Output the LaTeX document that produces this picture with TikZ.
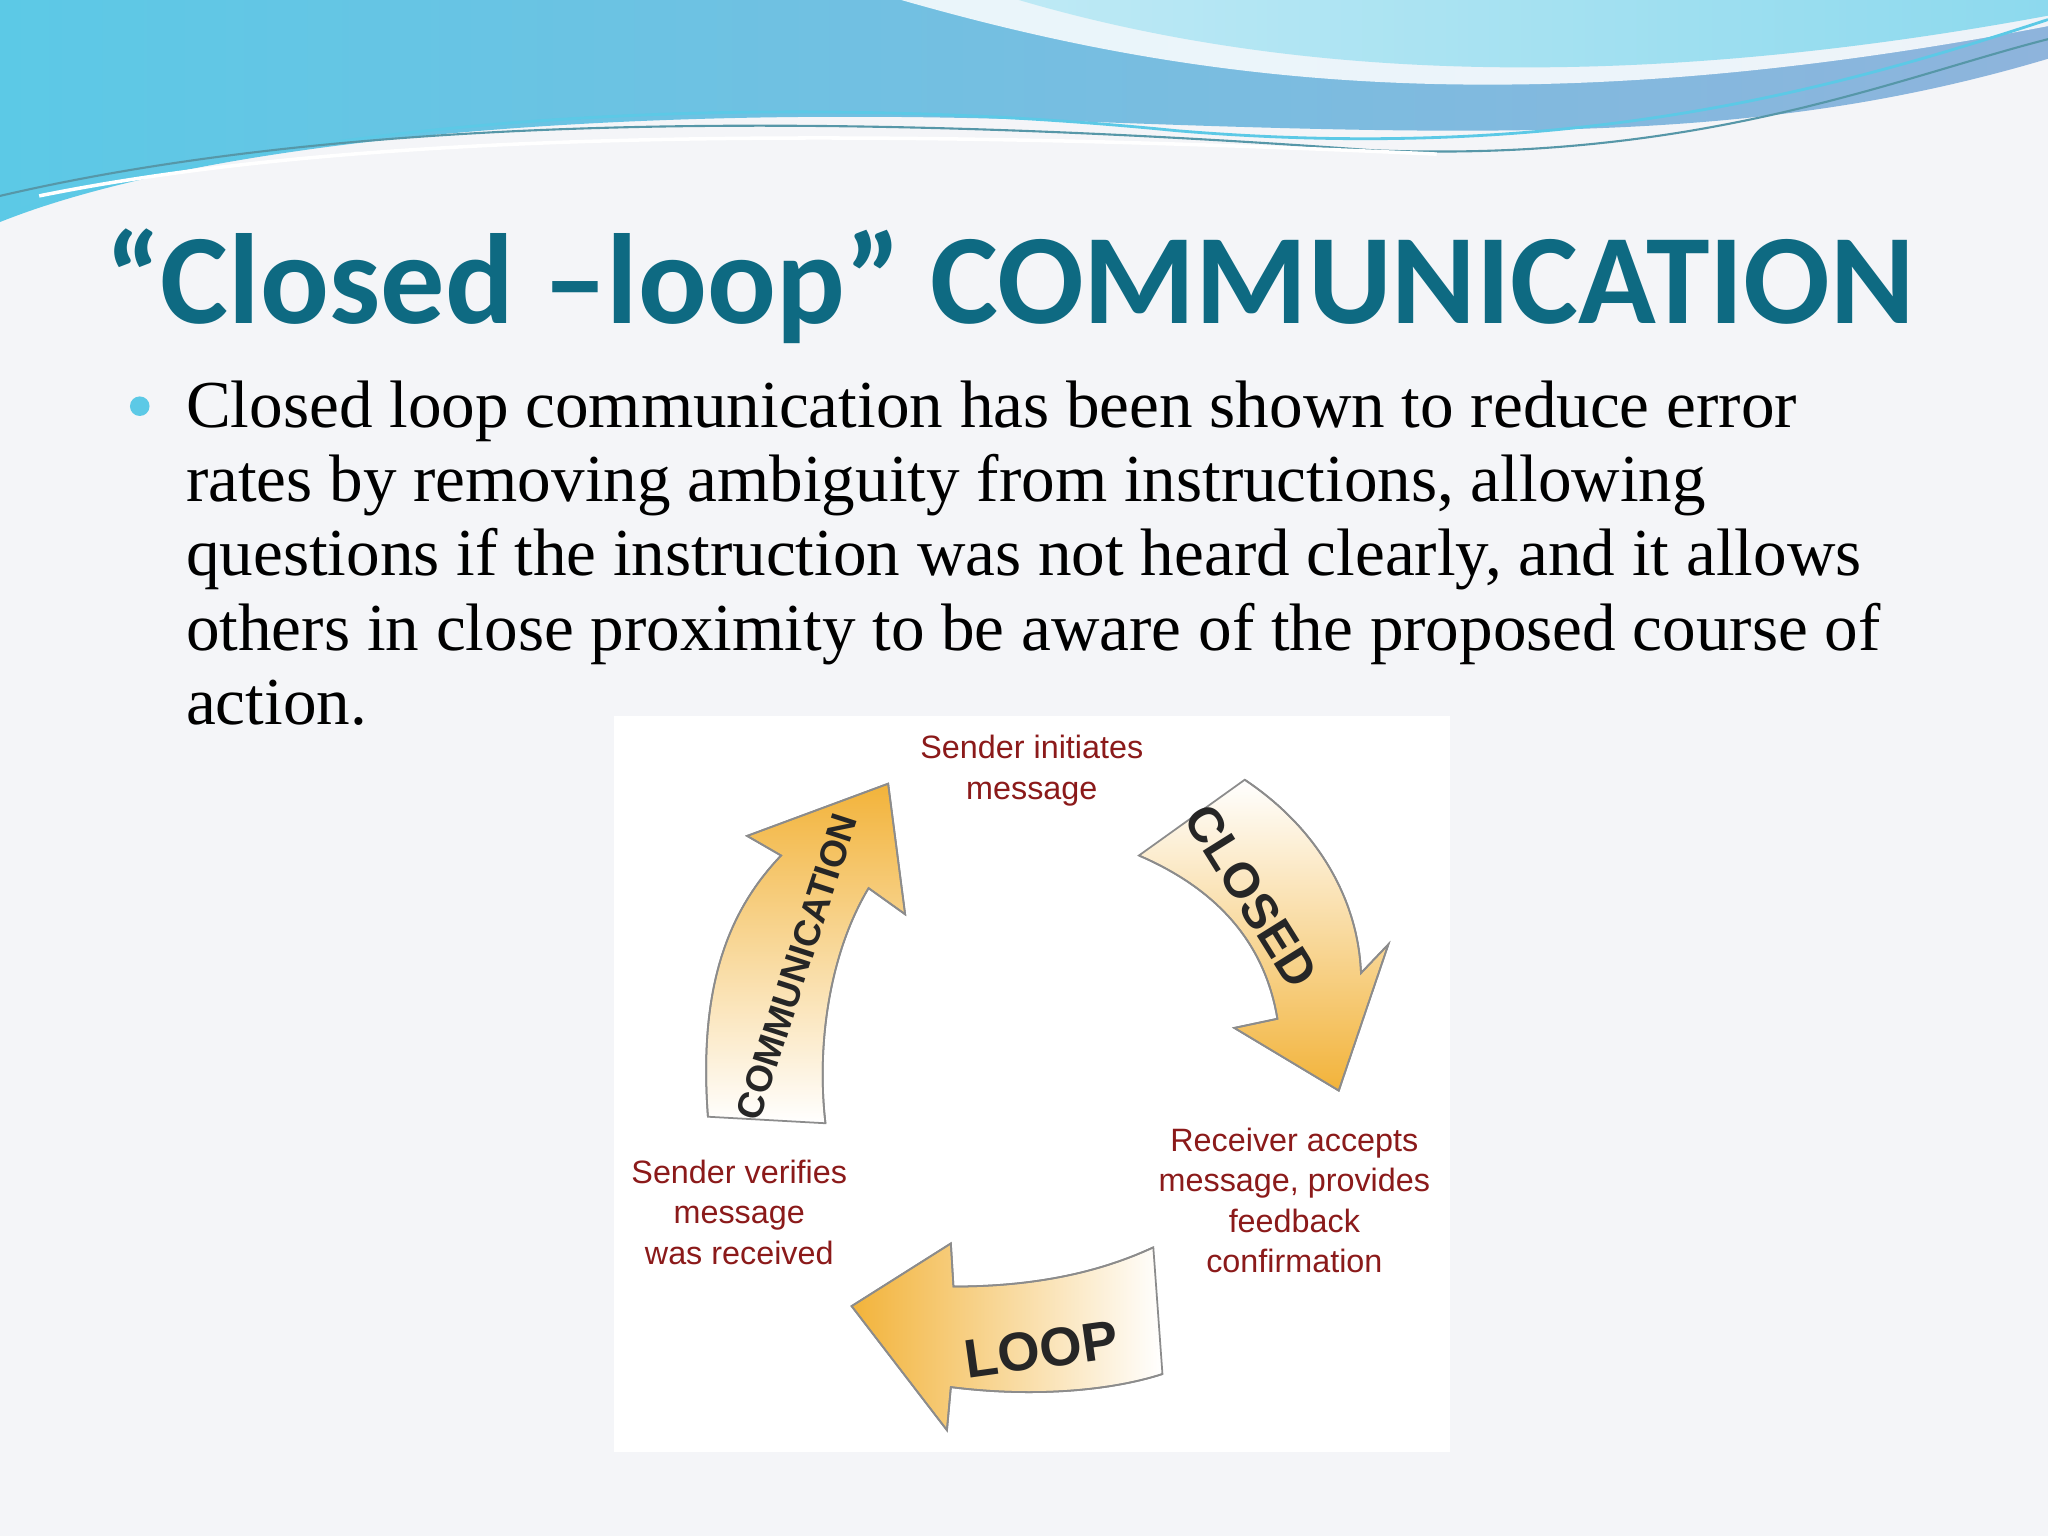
\documentclass[tikz,border=0pt]{standalone}
\usepackage{fontspec}
\setmainfont{Liberation Serif}
\newfontfamily\titlefont{Carlito}
\newfontfamily\labfont{Liberation Sans}
\usetikzlibrary{shadings}
\definecolor{titleblue}{HTML}{0E6A82}
\definecolor{labred}{HTML}{8B1A1A}
\definecolor{bg}{HTML}{F4F5F8}
\definecolor{arrorange}{HTML}{F2B33A}
\definecolor{wave1}{HTML}{5CC9E6}
\definecolor{wave2}{HTML}{8EB4DC}
\tikzset{
  bodyline/.style={anchor=base west,inner sep=0pt,font=\fontsize{19.1}{22}\selectfont},
  lab/.style={align=center,text=labred,font=\labfont\fontsize{9.2}{11.5}\selectfont},
  arrlab/.style={font=\labfont\bfseries\fontsize{14}{14}\selectfont,text=black!85},
  bigarrow/.style={draw=black!45,line width=0.5pt},
}
\begin{document}
\begin{tikzpicture}[x=0.013061cm,y=-0.013061cm]
\useasboundingbox (0,0) rectangle (1568,1176);
\fill[bg] (0,0) rectangle (1568,1176);
% top waves
\shade[left color=wave1,right color=wave2] (0,0) -- (1568,0) -- (1568,45)
  .. controls (1350,110) and (1150,105) .. (800,92)
  .. controls (450,80) and (150,110) .. (0,170) -- cycle;
\fill[white,opacity=0.85] (690,0) .. controls (900,60) and (1150,100) .. (1568,20) -- (1568,0) -- cycle;
\shade[left color=wave1!40,right color=wave1!70] (780,0) .. controls (950,50) and (1200,80) .. (1568,12) -- (1568,0) -- cycle;
\draw[wave1,line width=0.8pt] (0,165) .. controls (250,85) and (600,70) .. (900,100) .. controls (1200,125) and (1400,70) .. (1568,15);
\draw[titleblue!70,line width=0.6pt] (0,150) .. controls (300,80) and (700,90) .. (1050,115) .. controls (1300,125) and (1450,60) .. (1568,30);
\draw[white,line width=1pt] (30,150) .. controls (300,95) and (700,100) .. (1100,118);

% title
\node[anchor=base west,inner sep=0pt,text=titleblue,font=\titlefont\bfseries\fontsize{36.5}{40}\selectfont] (title) at (80,248) {“Closed –loop” COMMUNICATION};
% bullet text
\fill[wave1] (107,311) circle (7.5);
\node[bodyline] (l1) at (142,327) {Closed loop communication has been shown to reduce error};
\node[bodyline] (l2) at (142,384) {rates by removing ambiguity from instructions, allowing};
\node[bodyline] (l3) at (142,441) {questions if the instruction was not heard clearly, and it allows};
\node[bodyline] (l4) at (142,498) {others in close proximity to be aware of the proposed course of};
\node[bodyline] (l5) at (142,555) {action.};

% diagram panel
\fill[white] (470,548) rectangle (1110,1112);
% CLOSED arrow
\shade[bigarrow,shading angle=-30,top color=white,bottom color=arrorange]
 (953,597) .. controls (1010,635) and (1040,690) .. (1042,745) -- (1063,723) -- (1025,835) -- (945,787) -- (978,780)
 .. controls (968,720) and (930,680) .. (872,655) -- cycle;
\draw[bigarrow] (953,597) .. controls (1010,635) and (1040,690) .. (1042,745) -- (1063,723) -- (1025,835) -- (945,787) -- (978,780)
 .. controls (968,720) and (930,680) .. (872,655);
\node[arrlab,rotate=-58] (closed) at (958,686) {CLOSED};
% COMMUNICATION arrow
\shade[bigarrow,shading angle=0,top color=arrorange,bottom color=white]
 (542,855) .. controls (535,760) and (555,700) .. (598,655) -- (572,640) -- (680,600) -- (693,700) -- (665,680)
 .. controls (635,730) and (625,800) .. (632,860) -- cycle;
\draw[bigarrow] (542,855) .. controls (535,760) and (555,700) .. (598,655) -- (572,640) -- (680,600) -- (693,700) -- (665,680)
 .. controls (635,730) and (625,800) .. (632,860);
\node[arrlab,rotate=72,font=\labfont\bfseries\fontsize{10.5}{10.5}\selectfont] (comm) at (610,740) {COMMUNICATION};
% LOOP arrow
\shade[bigarrow,shading angle=90,left color=arrorange,right color=white]
 (883,955) .. controls (840,975) and (790,985) .. (730,985) -- (728,952) -- (652,1000) -- (725,1095) -- (728,1062)
 .. controls (790,1070) and (850,1065) .. (890,1052) -- cycle;
\draw[bigarrow] (883,955) .. controls (840,975) and (790,985) .. (730,985) -- (728,952) -- (652,1000) -- (725,1095) -- (728,1062)
 .. controls (790,1070) and (850,1065) .. (890,1052);
\node[arrlab,rotate=8,font=\labfont\bfseries\fontsize{15.5}{15.5}\selectfont] (loop) at (797,1033) {LOOP};

% labels
\node[lab] (s1) at (790,590) {Sender initiates\\message};
\node[lab] (s2) at (991,919) {Receiver accepts\\message, provides\\feedback\\confirmation};
\node[lab] (s3) at (566,928) {Sender verifies\\message\\was received};
\end{tikzpicture}
\end{document}
